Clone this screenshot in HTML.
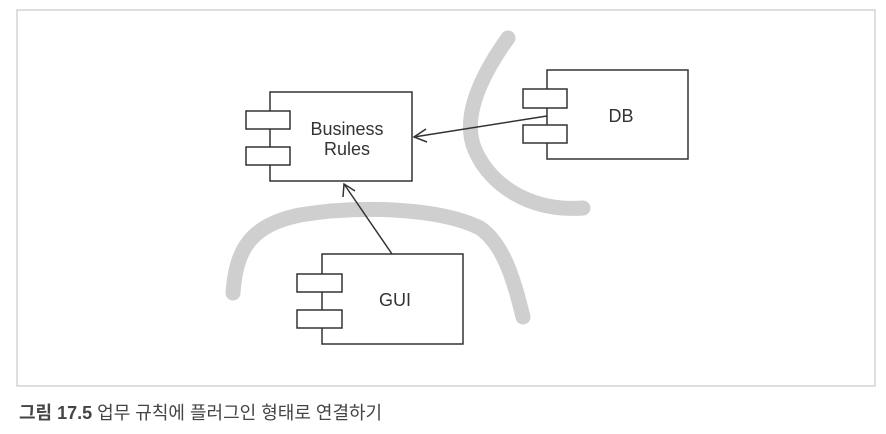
<!DOCTYPE html>
<html><head><meta charset="utf-8"><style>
body{margin:0;background:#fff;width:886px;height:434px;overflow:hidden;}
svg{position:absolute;left:0;top:0;}
.cap{position:absolute;left:19px;top:399px;font-family:"Liberation Sans","Noto Sans CJK KR",sans-serif;font-size:18px;color:#444;}
.cap b{font-weight:bold;}
</style></head><body>
<svg width="886" height="434" xmlns="http://www.w3.org/2000/svg">
<rect x="17" y="10" width="858" height="376" fill="#fff" stroke="#c8c8c8" stroke-width="1.2"/>
<g fill="none" stroke="#cfcfcf" stroke-width="15" stroke-linecap="round">
<path d="M508 38 C478 80 462 120 475 150 C490 185 530 212 583 208"/>
<path d="M233 293 C236 250 250 225 300 215 C360 205 440 208 480 228 C505 245 515 285 523 317"/>
</g>
<g fill="#fff" stroke="#333" stroke-width="1.5">
<rect x="270" y="92" width="142" height="89"/>
<rect x="246" y="111" width="44" height="18"/>
<rect x="246" y="147" width="44" height="18"/>
<rect x="547" y="70" width="141" height="89"/>
<rect x="523" y="89" width="44" height="19"/>
<rect x="523" y="125" width="44" height="18"/>
<rect x="322" y="254" width="141" height="90"/>
<rect x="297" y="274" width="45" height="18"/>
<rect x="297" y="310" width="45" height="18"/>
</g>
<g stroke="#333" stroke-width="1.5" fill="none">
<line x1="547" y1="116" x2="414" y2="137"/>
<path d="M426 129 L414 137 L427 142"/>
<line x1="392" y1="254" x2="344" y2="184"/>
<path d="M343 197 L344 184 L355 191"/>
</g>
<g font-family="Liberation Sans, sans-serif" font-size="18" fill="#333" text-anchor="middle">
<text x="347" y="135">Business</text>
<text x="347" y="155">Rules</text>
<text x="621" y="122">DB</text>
<text x="395" y="306">GUI</text>
</g>
</svg>
<div class="cap"><b>그림 17.5</b> 업무 규칙에 플러그인 형태로 연결하기</div>
</body></html>
